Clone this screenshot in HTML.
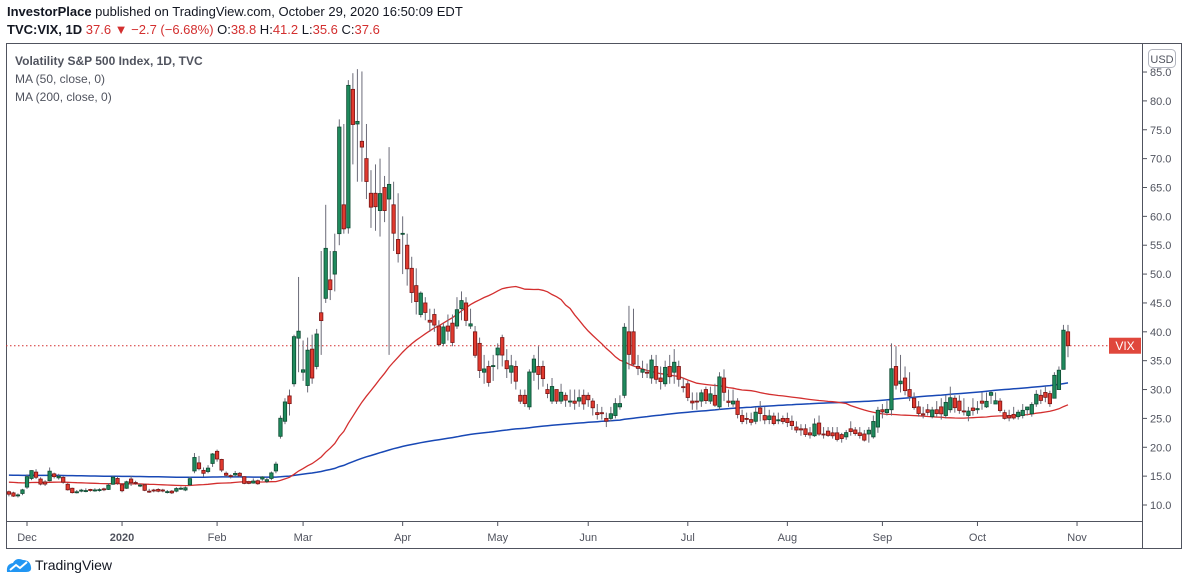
<!DOCTYPE html>
<html><head><meta charset="utf-8"><style>
body{margin:0;background:#fff;font-family:"Liberation Sans",sans-serif;}
#wrap{position:relative;width:1188px;height:586px;overflow:hidden;}
</style></head><body>
<div id="wrap">
<div style="position:absolute;left:7px;top:4px;font-size:13px;color:#131722;"><b>InvestorPlace</b> published on TradingView.com, October 29, 2020 16:50:09 EDT</div>
<div style="position:absolute;left:7px;top:22px;font-size:13px;color:#131722;"><b>TVC:VIX, 1D</b> <span style="color:#d32f2f">37.6 ▼ −2.7 (−6.68%)</span> O:<span style="color:#d32f2f">38.8</span> H:<span style="color:#d32f2f">41.2</span> L:<span style="color:#d32f2f">35.6</span> C:<span style="color:#d32f2f">37.6</span></div>
<svg id="svg" width="1188" height="586" style="position:absolute;left:0;top:0"></svg>
<div style="position:absolute;left:6px;top:557px;font-size:14px;color:#131722;display:flex;align-items:center;gap:3px;">
<svg width="26" height="16" viewBox="0 0 26 16"><path d="M1 15 Q0 7 7 6 Q10 0 17 3 Q24 3 25 10 Q26 15 20 15Z" fill="#2196f3"/><polyline points="4,13 10,8 14,11 21,5" fill="none" stroke="#fff" stroke-width="2"/></svg>TradingView</div>
</div>
<script>
const closes=[11.87,11.54,11.75,12.62,
14.91,15.96,14.80,13.62,13.62,15.86,14.91,14.99,13.94,12.63,12.14,12.29,12.58,12.50,12.51,12.61,12.67,12.65,13.43,14.82,13.78,
12.47,14.02,13.85,13.79,13.45,12.54,12.32,12.56,12.39,12.42,12.32,12.10,12.85,12.91,12.98,14.56,18.23,16.28,15.49,16.39,18.84,
17.97,16.05,15.15,14.96,15.47,15.04,13.74,13.74,14.15,13.68,14.83,14.38,15.56,17.08,25.03,27.85,27.56,39.16,40.11,
33.42,36.82,31.99,39.62,41.94,54.46,47.30,53.90,75.47,57.83,82.69,75.91,76.45,72.00,66.04,61.59,61.67,63.95,61.00,65.54,57.08,53.54,
57.06,50.91,46.80,45.24,46.70,43.35,41.67,41.17,37.76,40.84,40.11,38.15,43.83,45.41,41.98,41.38,35.93,33.29,33.57,31.23,34.15,
37.19,35.97,33.61,34.12,31.44,27.98,27.57,33.04,35.28,32.61,31.89,29.30,30.53,27.99,29.53,28.16,28.01,27.62,28.59,27.51,
28.23,26.84,25.66,25.81,24.52,25.81,27.57,27.57,40.79,36.09,34.40,33.67,33.47,32.94,35.12,31.77,31.37,33.84,32.22,34.73,31.78,30.43,
28.62,27.68,27.94,29.43,28.08,29.26,27.29,32.19,29.52,27.76,28.00,25.68,24.46,24.84,24.32,26.08,25.84,24.74,25.44,24.10,24.76,24.46,
24.28,23.76,22.99,23.00,22.21,22.13,24.03,22.28,22.13,22.05,21.99,21.35,21.51,22.54,22.72,22.37,22.03,21.24,22.96,24.47,26.41,
26.12,26.57,33.60,30.75,31.46,29.81,28.81,26.87,25.85,25.59,26.04,26.46,25.83,25.79,27.78,28.58,26.86,26.38,26.19,26.27,26.37,
26.70,27.63,27.96,29.48,28.06,26.36,25.00,25.07,25.07,26.07,26.40,26.97,27.41,29.18,28.11,28.65,27.55,32.46,33.35,40.28,37.59];
const opens=[12.3,12.1,11.6,12.0,
13.1,14.6,15.7,14.5,14.0,14.2,15.4,14.7,14.8,13.6,12.9,12.2,12.4,12.5,12.7,12.6,12.5,12.8,12.7,13.6,14.6,
13.5,12.9,14.5,13.9,13.3,13.5,12.4,12.6,12.7,12.6,12.3,12.4,12.4,12.9,12.6,13.5,15.9,17.3,16.0,15.8,17.2,
19.3,17.9,15.5,15.1,15.2,15.5,14.9,14.0,13.8,14.2,14.5,14.1,14.6,15.9,21.9,24.5,28.9,31.0,38.9,
33.0,30.7,37.0,34.0,43.3,45.8,49.0,50.0,57.0,62.0,58.0,82.0,76.0,73.0,70.0,64.0,64.0,61.0,65.0,63.0,62.0,56.0,
57.0,55.0,51.0,48.0,43.0,45.0,42.0,43.0,41.0,38.0,41.0,41.5,41.0,44.0,45.0,41.0,40.0,38.0,33.0,34.0,34.0,
36.0,39.0,35.0,33.0,34.0,29.0,29.0,27.0,33.0,34.0,34.0,30.0,28.0,30.0,28.0,29.0,28.0,28.0,28.0,29.0,
29.0,28.0,26.0,26.0,25.0,25.0,25.5,27.0,29.0,40.0,40.0,34.0,33.0,33.0,32.0,34.0,32.0,31.0,34.0,33.0,34.0,30.5,
31.0,28.0,28.0,28.0,30.0,28.0,29.0,27.0,32.0,28.0,27.5,28.0,25.5,25.0,24.8,24.5,26.8,25.5,24.8,25.4,24.6,25.0,
25.0,24.5,23.5,23.2,23.2,22.5,22.0,24.2,22.3,22.8,22.5,22.5,22.2,21.8,23.2,23.0,22.5,22.3,22.3,21.8,23.5,
26.5,26.0,26.5,34.0,31.0,32.0,30.0,28.5,27.0,25.8,26.5,25.3,26.5,27.0,25.5,26.5,28.5,28.0,26.3,25.5,26.8,
26.5,28.0,27.0,29.0,27.5,28.0,26.0,25.5,25.7,25.3,25.5,26.5,25.8,27.5,29.0,29.5,29.3,28.5,30.0,33.5,40.0];
const highs=[12.5,12.3,12.0,12.8,
15.3,16.0,16.2,14.8,14.3,16.5,15.6,15.4,15.0,13.8,13.0,12.6,12.8,12.9,12.8,12.9,12.9,13.0,13.8,15.0,14.9,
13.8,14.2,15.0,14.2,13.7,13.7,12.8,12.8,12.9,12.8,12.6,12.6,13.1,13.2,13.2,14.9,19.0,18.5,16.5,16.9,19.0,
19.6,18.0,15.8,15.3,15.9,15.7,15.0,14.2,14.6,14.4,15.0,14.7,15.8,17.5,25.5,28.5,30.0,39.5,49.5,
38.5,39.0,39.5,40.5,54.0,62.0,54.0,57.0,76.8,76.0,83.6,84.8,85.5,85.1,76.0,68.0,69.0,70.0,67.0,72.0,66.0,64.0,
60.0,57.0,53.0,51.0,47.0,46.0,44.0,44.0,42.0,41.5,43.0,43.0,46.0,47.0,46.0,44.0,41.0,39.0,36.0,35.0,36.0,
38.0,39.5,37.0,36.0,35.0,30.0,30.0,33.5,36.0,37.5,35.0,31.0,32.0,30.0,31.0,29.5,30.0,30.0,30.0,30.0,
29.5,28.5,27.5,27.0,26.0,27.0,28.5,29.0,41.5,44.5,44.0,36.0,35.0,34.5,36.0,36.0,34.0,35.0,36.0,37.0,35.0,32.0,
31.5,29.5,29.5,30.0,30.5,30.5,31.0,33.0,33.5,30.0,30.0,28.5,26.5,26.0,26.0,27.0,28.0,27.0,26.5,26.0,26.0,25.5,
26.0,25.5,24.5,24.0,24.0,23.5,25.0,25.5,23.5,23.5,23.5,23.5,22.5,23.0,24.5,23.5,23.5,23.0,23.5,25.5,27.0,
27.5,28.0,38.0,37.5,36.0,34.0,33.0,29.5,28.0,27.0,27.5,27.0,28.0,28.5,29.0,30.5,29.0,29.0,28.5,27.0,28.5,
28.0,29.5,29.5,29.8,29.5,28.5,26.5,26.5,27.0,26.5,27.5,27.0,27.8,29.9,30.0,30.5,29.8,33.0,34.0,41.2,41.2];
const lows=[11.5,11.4,11.3,11.7,
12.8,14.3,14.5,13.4,13.3,14.1,14.6,14.4,13.7,12.5,12.0,12.0,12.2,12.2,12.3,12.3,12.3,12.4,12.6,13.5,13.5,
12.2,12.8,13.3,13.5,13.1,12.4,12.1,12.2,12.2,12.2,12.0,11.9,12.2,12.6,12.4,13.3,15.5,16.0,14.9,15.5,16.6,
17.5,15.7,14.9,14.6,14.9,14.8,13.6,13.6,13.7,13.5,14.2,13.8,14.3,15.5,21.5,24.0,25.5,30.5,33.0,
31.5,29.5,31.0,33.5,36.0,45.0,45.5,47.0,55.0,57.0,57.0,69.0,66.0,66.0,63.0,58.0,57.5,56.5,59.0,36.0,54.0,52.0,
50.0,48.0,45.0,43.0,42.5,42.0,40.0,40.0,37.5,37.5,38.5,37.5,40.5,42.0,41.0,40.5,35.5,32.0,31.0,30.5,31.5,
33.5,34.0,32.0,31.0,30.0,27.5,27.0,26.5,31.5,30.0,30.5,28.5,27.5,27.5,27.5,27.0,27.0,26.5,27.0,26.5,
27.0,25.5,24.8,24.8,23.5,24.5,25.0,26.5,28.5,33.5,34.0,32.5,32.0,32.0,31.0,31.0,30.0,30.5,31.0,31.0,30.5,29.5,
28.0,26.5,26.5,27.0,27.5,27.5,27.0,26.5,28.0,27.0,27.0,25.0,24.0,24.0,23.8,24.0,24.5,24.0,24.0,23.8,24.0,24.0,
23.5,23.0,22.5,22.0,21.8,21.5,21.8,22.0,21.5,21.8,21.5,21.0,20.8,21.3,22.0,22.0,21.5,21.0,20.8,21.5,22.5,
25.0,25.5,25.5,30.0,29.5,29.0,28.0,26.5,25.3,25.0,25.5,25.0,25.3,24.8,25.0,26.0,26.0,25.8,25.5,24.5,25.5,
25.8,26.5,26.8,27.5,27.5,26.0,24.8,24.5,24.8,24.8,25.0,25.5,25.3,27.0,27.5,27.8,27.0,28.5,31.0,33.5,35.6];
const monthLabels=["Dec","2020","Feb","Mar","Apr","May","Jun","Jul","Aug","Sep","Oct","Nov"];
const monthIdx=[4,25,46,65,87,108,128,150,172,193,214,236];
const yTicks=[10,15,20,25,30,35,40,45,50,55,60,65,70,75,80,85];
const priorAvg50=14.0, priorAvg200=15.2;

const NS="http://www.w3.org/2000/svg";
const svg=document.getElementById('svg');
function xS(i){return 27+(i-4)*4.526;}
function yS(v){return 505-(v-10)*5.773;}
function mk(tag,a,p){const e=document.createElementNS(NS,tag);for(const k in a)e.setAttribute(k,a[k]);(p||svg).appendChild(e);return e;}

// frame
let fr=mk('rect',{x:6.5,y:43.5,width:1175,height:505,fill:'none',stroke:'#50535e','stroke-width':1});


let ya=mk('line',{x1:1142.5,y1:43,x2:1142.5,y2:549,stroke:'#50535e'});


let xa=mk('line',{x1:6,y1:521.5,x2:1142,y2:521.5,stroke:'#50535e'});



yTicks.forEach(v=>{
  const y=yS(v);
  let t=mk('line',{x1:1142,y1:y,x2:1147,y2:y,stroke:'#50535e'});
  
  
  let tx=mk('text',{x:1150,y:y+4,'font-size':11,fill:'#50535e','font-family':'Liberation Sans, sans-serif'});
  tx.textContent=v.toFixed(1);
  
  
});
monthLabels.forEach((m,k)=>{
  const x=xS(monthIdx[k]);
  let t=mk('line',{x1:x,y1:522,x2:x,y2:526,stroke:'#50535e'});
  
  
  let tx=mk('text',{x:x,y:541,'font-size':11,fill:'#50535e','text-anchor':'middle','font-weight':m==='2020'?'bold':'normal','font-family':'Liberation Sans, sans-serif'});
  tx.textContent=m;
  
  
});

// moving averages
function ma(n,prior){const pts=[];for(let i=0;i<closes.length;i++){let s=0,c=0;for(let j=Math.max(0,i-n+1);j<=i;j++){s+=closes[j];c++;}s+=(n-c)*prior;pts.push(xS(i).toFixed(1)+','+yS(s/n).toFixed(1));}return pts.join(' ');}
let m200=mk('polyline',{points:ma(200,priorAvg200),fill:'none',stroke:'#1848b5','stroke-width':1.5});


let m50=mk('polyline',{points:ma(50,priorAvg50),fill:'none',stroke:'#d32f2f','stroke-width':1.3});



// last price line
const lastY=yS(closes[closes.length-1]);
let pl=mk('line',{x1:6,y1:lastY,x2:1142,y2:lastY,stroke:'#d32f2f','stroke-dasharray':'1.5,2.5','stroke-width':1});



// candles
for(let i=0;i<closes.length;i++){
  const x=xS(i),o=opens[i],c=closes[i],up=c>=o;
  const g=mk('g',{});
  
  
  mk('line',{x1:x,y1:yS(highs[i]),x2:x,y2:yS(lows[i]),stroke:'#6b6b78','stroke-width':1},g);
  const t=yS(Math.max(o,c)),b=yS(Math.min(o,c));
  mk('rect',{x:x-1.7,y:t,width:3.4,height:Math.max(1,b-t),fill:up?'#1f8a5d':'#e03a2f',stroke:up?'#0d4a31':'#7a1414','stroke-width':0.8},g);
}

// VIX label
let lb=mk('rect',{x:1109,y:lastY-8,width:32,height:16,fill:'#e0473c'});


let lt=mk('text',{x:1125,y:lastY+4.5,'font-size':12,fill:'#fff','text-anchor':'middle','font-family':'Liberation Sans, sans-serif'});
lt.textContent='VIX';



// USD badge
let ub=mk('rect',{x:1148.5,y:49.5,width:27,height:18,rx:4,fill:'#fff',stroke:'#b2b5be'});


let ut=mk('text',{x:1162,y:63,'font-size':11,fill:'#50535e','text-anchor':'middle','font-family':'Liberation Sans, sans-serif'});
ut.textContent='USD';



// legend
const legend=[["Volatility S&P 500 Index, 1D, TVC",65,'bold'],["MA (50, close, 0)",83,'normal'],["MA (200, close, 0)",101,'normal']];
legend.forEach(l=>{
  let tx=mk('text',{x:15,y:l[1],'font-size':12,fill:'#50535e','font-weight':l[2],'font-family':'Liberation Sans, sans-serif'});
  tx.textContent=l[0];
  
  
});
</script>
</body></html>
